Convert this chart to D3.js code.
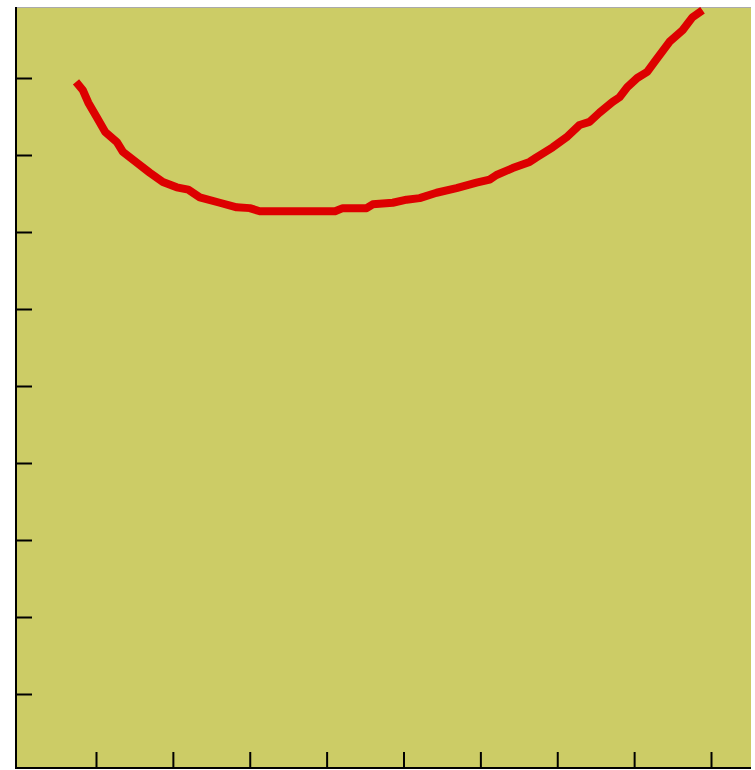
<!DOCTYPE html>
<html>
<head>
<meta charset="utf-8">
<script src="https://cdn.jsdelivr.net/npm/d3@7"></script>
<style>
  body { margin: 0; background: #fff; }
  svg { display: block; }
</style>
</head>
<body>
<svg id="chart" width="755" height="770"></svg>
<script>
// curve values
var xValues = [0.74, 0.83, 0.90, 1.01, 1.12, 1.27, 1.35, 1.53, 1.70, 1.87, 2.05, 2.20, 2.35, 2.61, 2.83,
  3.00, 3.13, 3.39, 3.65, 3.91, 4.11, 4.21, 4.52, 4.60, 4.86, 5.04, 5.21, 5.43, 5.69, 5.95, 6.12,
  6.21, 6.42, 6.64, 6.73, 6.94, 7.12, 7.29, 7.42, 7.55, 7.72, 7.81, 7.91, 8.04, 8.17, 8.28, 8.46,
  8.63, 8.76, 8.89];
var yValues = [8.95, 8.84, 8.68, 8.49, 8.30, 8.17, 8.04, 7.90, 7.77, 7.65, 7.58, 7.55, 7.45, 7.38, 7.32,
  7.31, 7.27, 7.27, 7.27, 7.27, 7.27, 7.31, 7.31, 7.36, 7.38, 7.42, 7.44, 7.51, 7.57, 7.64, 7.68,
  7.74, 7.83, 7.91, 7.97, 8.10, 8.23, 8.39, 8.43, 8.55, 8.69, 8.75, 8.88, 9.00, 9.08, 9.23, 9.47,
  9.62, 9.79, 9.88];
var xTicks = [1, 2, 3, 4, 5, 6, 7, 8, 9];
var yTicks = [1, 2, 3, 4, 5, 6, 7, 8, 9];

var plotL = 16, plotR = 751, plotT = 7, plotB = 768;

var svg = d3.select("#chart");

var x = d3.scaleLinear().domain([1, 9]).range([96, 711]);
var y = d3.scaleLinear().domain([1, 9]).range([694, 78]);

// plot area
svg.append("rect")
  .attr("x", plotL).attr("y", plotT)
  .attr("width", plotR - plotL).attr("height", plotB - plotT)
  .attr("fill", "#cccc66");
svg.append("line")
  .attr("x1", plotL).attr("x2", plotR)
  .attr("y1", plotT + 0.5).attr("y2", plotT + 0.5)
  .attr("stroke", "#aaaaaa").attr("stroke-width", 1);

svg.append("clipPath").attr("id", "plot")
  .append("rect")
  .attr("x", plotL).attr("y", plotT)
  .attr("width", plotR - plotL).attr("height", plotB - plotT);

var pts = xValues.map(function (d, i) { return [d, yValues[i]]; });
var line = d3.line()
  .x(function (d) { return x(d[0]); })
  .y(function (d) { return y(d[1]); });

svg.append("path")
  .datum(pts)
  .attr("clip-path", "url(#plot)")
  .attr("d", line)
  .attr("fill", "none")
  .attr("stroke", "#dd0000")
  .attr("stroke-width", 8)
  .attr("stroke-linejoin", "round");

// ticks pointing into the plot, no labels
var gx = svg.append("g")
  .attr("transform", "translate(0," + plotB + ")")
  .call(d3.axisBottom(x).tickValues(xTicks).tickSize(-16).tickFormat(""));
var gy = svg.append("g")
  .attr("transform", "translate(" + plotL + ",0)")
  .call(d3.axisLeft(y).tickValues(yTicks).tickSize(-16).tickFormat(""));
[gx, gy].forEach(function (g) {
  g.select(".domain").remove();
  g.selectAll(".tick line").attr("stroke", "#000").attr("stroke-width", 2);
});

// axis lines
svg.append("line")
  .attr("x1", plotL).attr("x2", plotL)
  .attr("y1", plotT).attr("y2", plotB + 1)
  .attr("stroke", "#000").attr("stroke-width", 2);
svg.append("line")
  .attr("x1", plotL - 1).attr("x2", plotR)
  .attr("y1", plotB).attr("y2", plotB)
  .attr("stroke", "#000").attr("stroke-width", 2);
</script>
</body>
</html>
